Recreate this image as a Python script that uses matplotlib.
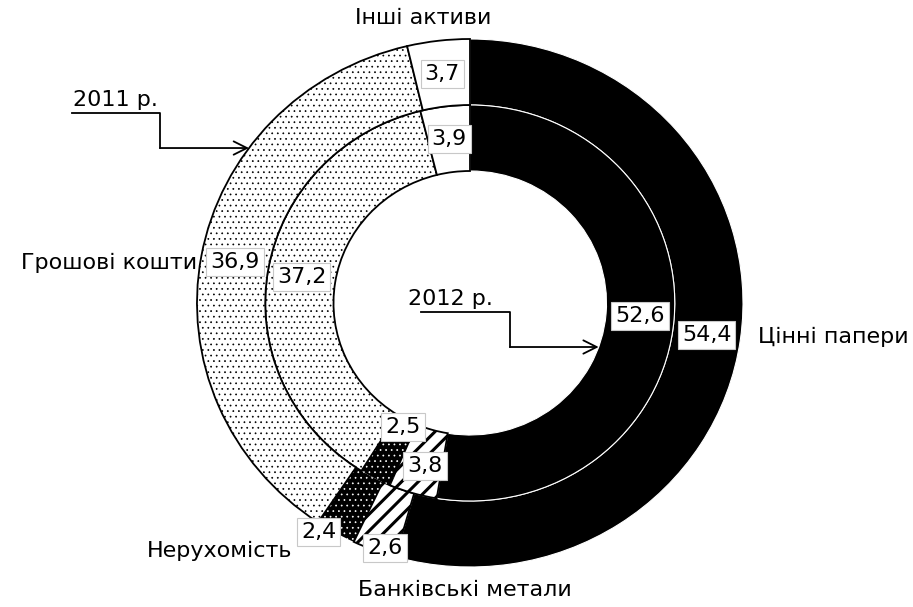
import matplotlib
matplotlib.use('Agg')
import matplotlib.pyplot as plt
import numpy as np

plt.rcParams['font.family'] = ['DejaVu Sans']

# Structure of assets, %
categories = ['Цінні папери', 'Банківські метали', 'Нерухомість', 'Грошові кошти', 'Інші активи']
values_2011 = [54.4, 2.6, 2.4, 36.9, 3.7]   # outer ring
values_2012 = [52.6, 3.8, 2.5, 37.2, 3.9]   # inner ring
value_labels_2011 = ['54,4', '2,6', '2,4', '36,9', '3,7']
value_labels_2012 = ['52,6', '3,8', '2,5', '37,2', '3,9']

# per-category fill styles
faces = ['black', 'white', 'black', 'white', 'white']
edges = ['white', 'black', 'white', 'black', 'black']
hatches = [None, '//', '...', '...', None]
edge_widths = [0.8, 1.3, 0, 1.3, 1.3]
hatch_widths = [1.0, 2.2, 0.5, 0.5, 1.0]

fig = plt.figure(figsize=(9.13, 6.07), dpi=100)
ax = fig.add_axes([0, 0, 1, 1])


def draw_ring(values, radius):
    wedges, _ = ax.pie(values, radius=radius, startangle=90, counterclock=False,
                       wedgeprops=dict(width=0.25))
    for w, fc, ec, h, lw, hw in zip(wedges, faces, edges, hatches, edge_widths, hatch_widths):
        w.set_facecolor(fc)
        w.set_edgecolor(ec)
        w.set_linewidth(lw)
        if h:
            w.set_hatch(h)
            if hasattr(w, 'set_hatch_linewidth'):
                w.set_hatch_linewidth(hw)
    return wedges


outer = draw_ring(values_2011, 1.0)
inner = draw_ring(values_2012, 0.75)

# keep the black outline of the dotted parts on top
for w in outer[3:]:
    w.set_zorder(2)

ax.set_aspect('auto')
ax.set_xlim(-470 / 273, 443 / 273)
ax.set_ylim(-304 / 264, 303 / 264)
ax.axis('off')


def mid_angles(values):
    cum = np.cumsum([0] + list(values))
    mids = (cum[:-1] + cum[1:]) / 2
    return 90 - mids / sum(values) * 360


# label radius and angular shift for each wedge
radii_2011 = [0.875, 0.98, 1.03, 0.875, 0.875]
shift_2011 = [0, 2, -3, 0, 0]
radii_2012 = [0.625, 0.64, 0.53, 0.625, 0.625]
shift_2012 = [0, 1.3, 0, 0, 0]

fs = 16
box = dict(boxstyle='square,pad=0.18', facecolor='white', edgecolor='#c8c8c8', linewidth=0.8)
for vals, labels, radii, shifts in [(values_2011, value_labels_2011, radii_2011, shift_2011),
                                    (values_2012, value_labels_2012, radii_2012, shift_2012)]:
    for a, lab, r, s in zip(mid_angles(vals), labels, radii, shifts):
        t = np.deg2rad(a + s)
        ax.text(r * np.cos(t), r * np.sin(t), lab, ha='center', va='center',
                fontsize=fs, bbox=box, zorder=5)

# category names
ax.text(-0.173, 1.08, categories[4], ha='center', va='center', fontsize=fs)
ax.text(-1.0, 0.152, categories[3], ha='right', va='center', fontsize=fs)
ax.text(1.055, -0.129, categories[0], ha='left', va='center', fontsize=fs)
ax.text(-0.65, -0.94, categories[2], ha='right', va='center', fontsize=fs)
ax.text(-0.02, -1.087, categories[1], ha='center', va='center', fontsize=fs)

# year pointers
arrow = dict(arrowstyle='->', color='black', lw=1.3, mutation_scale=24, shrinkA=0, shrinkB=0)

y_top, y_low = 0.7197, 0.587
x_tip = -np.sqrt(1 - y_low ** 2)
ax.plot([-1.458, -1.1355, -1.1355], [y_top, y_top, y_low], color='black', lw=1.3)
ax.annotate('', xy=(x_tip, y_low), xytext=(-1.1355, y_low), arrowprops=arrow)
ax.text(-1.30, y_top + 0.012, '2011 р.', ha='center', va='bottom', fontsize=fs)

y_top, y_low = -0.034, -0.1667
x_tip = np.sqrt(0.5 ** 2 - y_low ** 2)
ax.plot([-0.179, 0.1465, 0.1465], [y_top, y_top, y_low], color='black', lw=1.3)
ax.annotate('', xy=(x_tip, y_low), xytext=(0.1465, y_low), arrowprops=arrow)
ax.text(-0.073, y_top + 0.012, '2012 р.', ha='center', va='bottom', fontsize=fs)

fig.savefig('out.png', dpi=100, facecolor='white')
